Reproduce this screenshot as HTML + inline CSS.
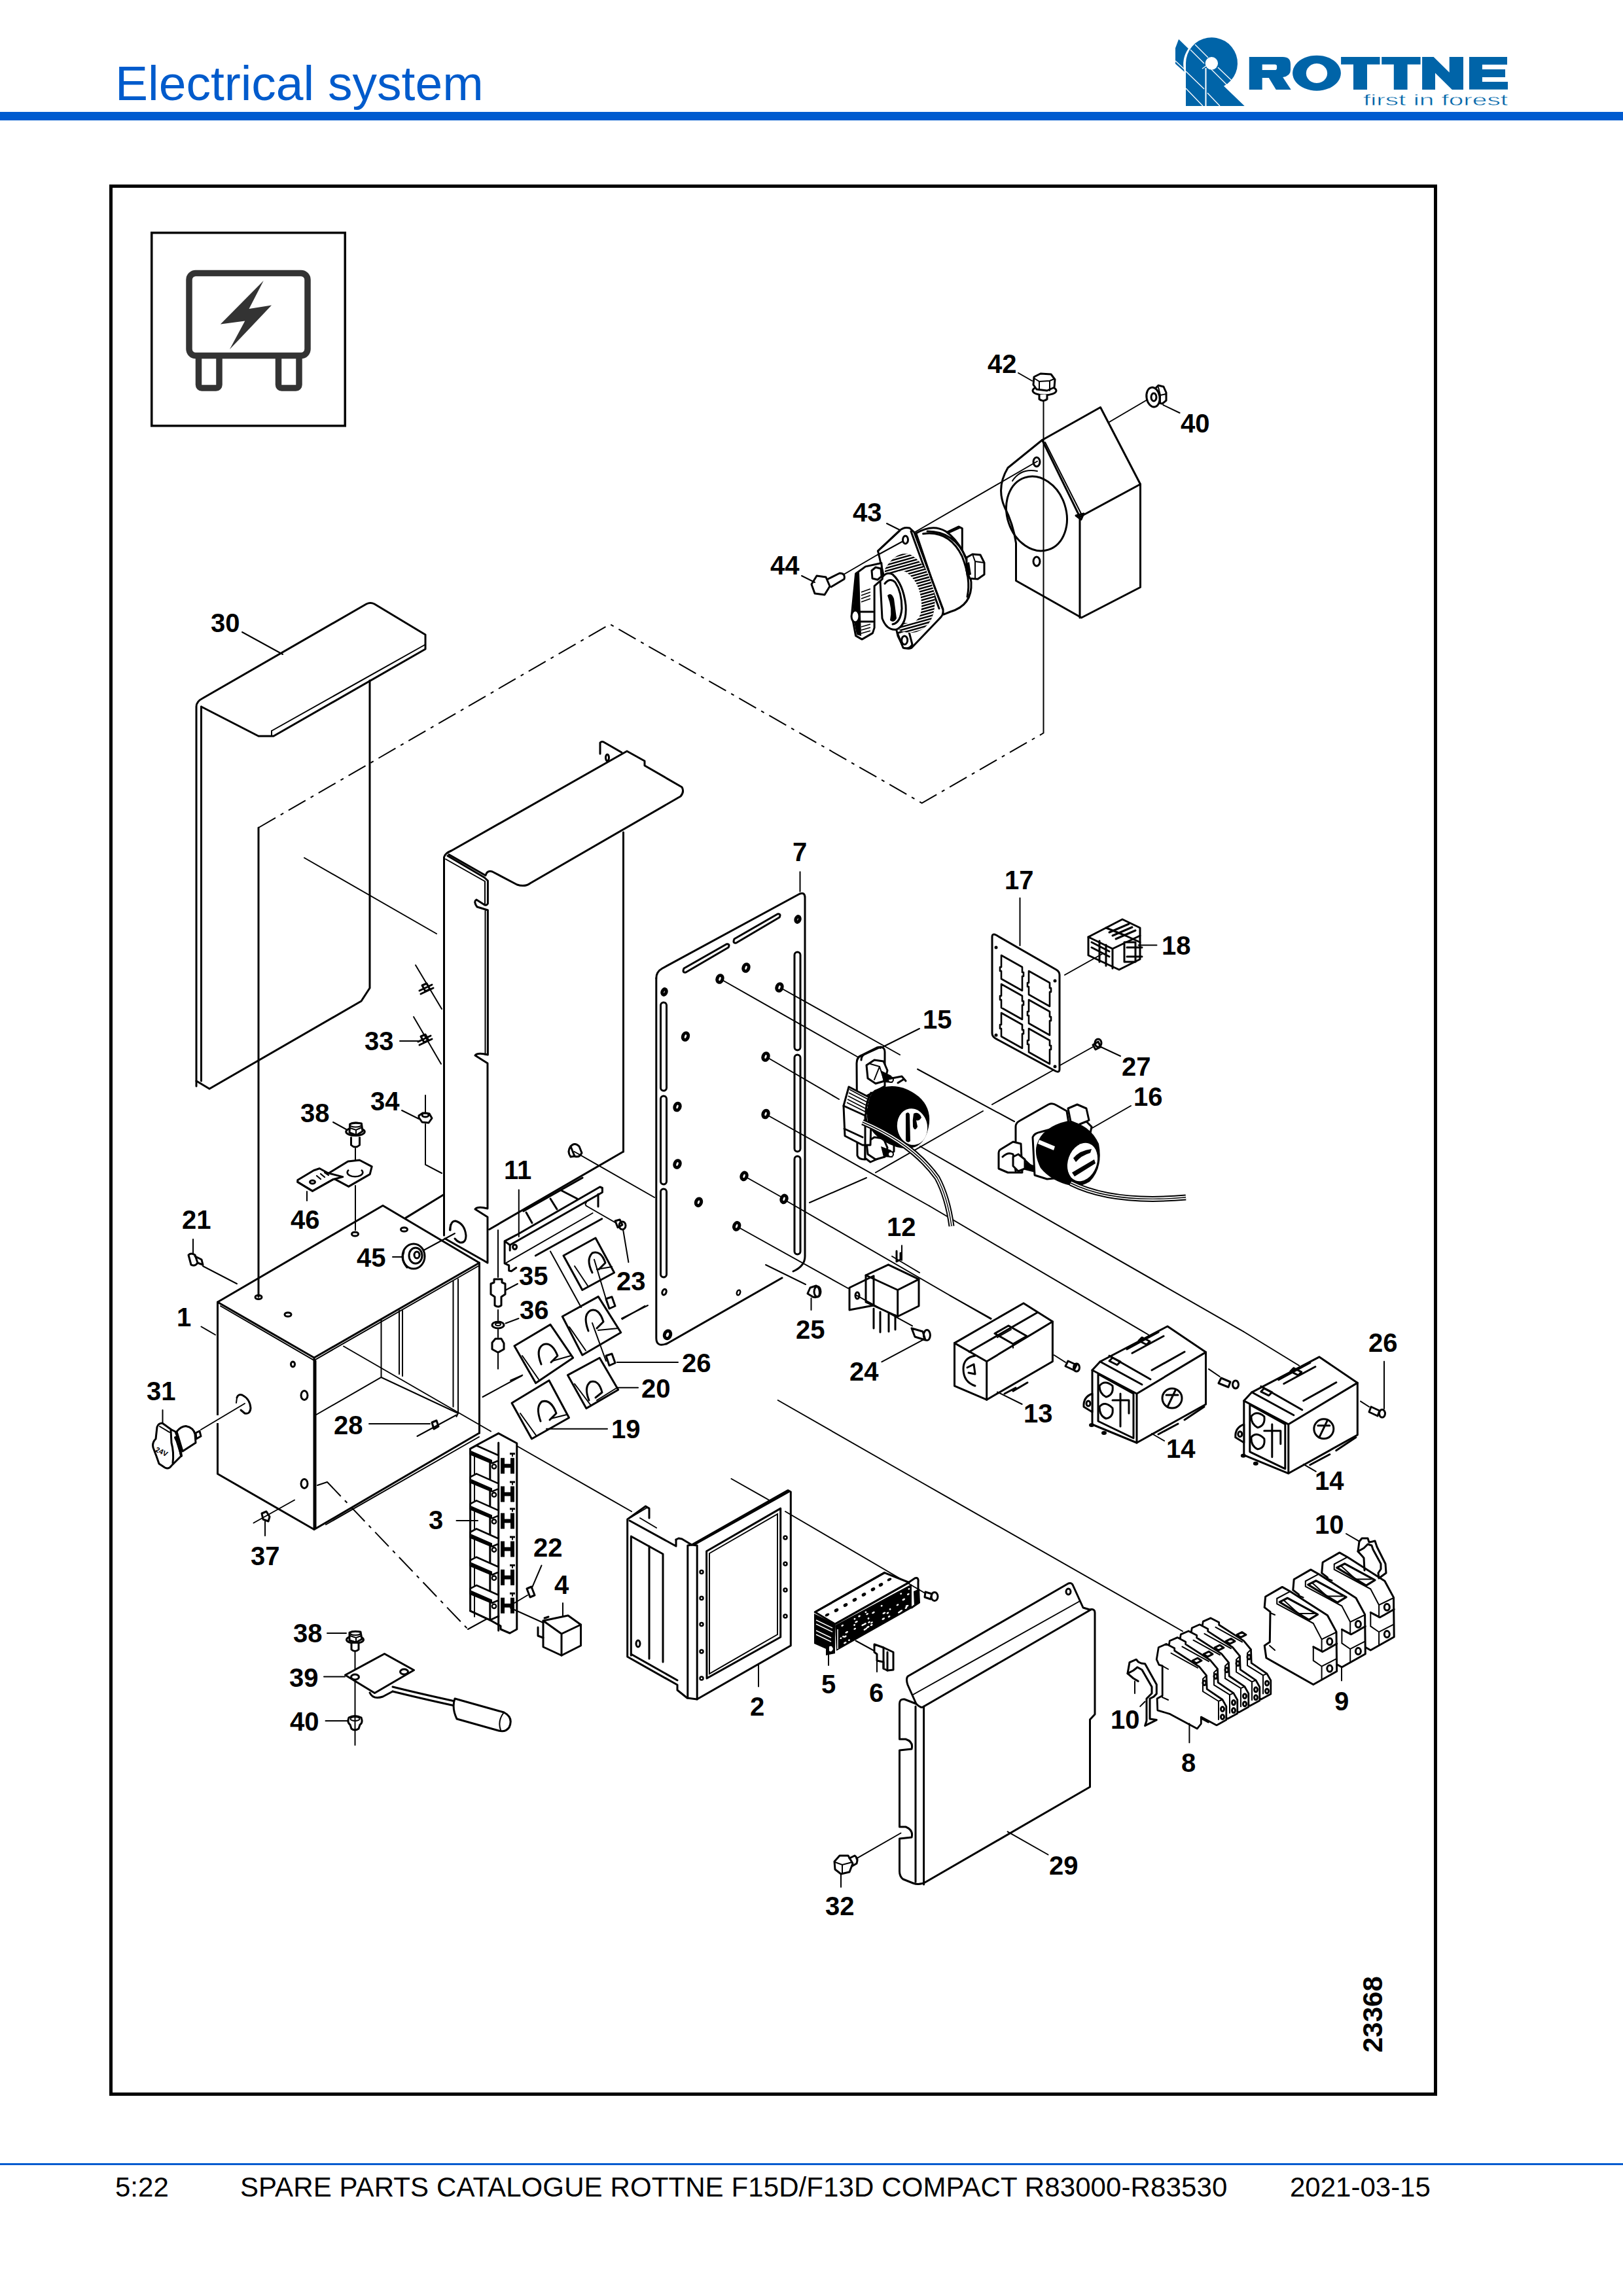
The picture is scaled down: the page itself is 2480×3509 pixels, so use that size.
<!DOCTYPE html>
<html><head><meta charset="utf-8">
<style>
html,body{margin:0;padding:0;background:#fff;}
body{width:2480px;height:3509px;position:relative;overflow:hidden;font-family:"Liberation Sans",sans-serif;}
.abs{position:absolute;}
#title{left:176px;top:90px;font-size:75px;color:#005bcc;white-space:nowrap;line-height:1;}
#hline{left:0;top:171px;width:2480px;height:13px;background:#005bcf;}
#fline{left:0;top:3306px;width:2480px;height:3px;background:#005bcf;}
.ft{font-size:42px;color:#000;white-space:nowrap;line-height:1;top:3322px;}
svg{position:absolute;left:0;top:0;}
svg text{font-family:"Liberation Sans",sans-serif;}
.L{font-size:40px;font-weight:bold;fill:#000;}
.o{fill:none;stroke:#000;stroke-width:3;stroke-linejoin:round;stroke-linecap:round;}
.t{fill:none;stroke:#000;stroke-width:2;stroke-linecap:round;}
.w{fill:#fff;stroke:#000;stroke-width:3;stroke-linejoin:round;}
.k{fill:#000;stroke:none;}
.dd{fill:none;stroke:#000;stroke-width:2;stroke-dasharray:30 9 5 9;}
</style></head><body>
<div id="title" class="abs">Electrical system</div>
<div id="hline" class="abs"></div>
<div id="fline" class="abs"></div>
<div class="abs ft" style="left:176px">5:22</div>
<div class="abs ft" style="left:367px;letter-spacing:0.1px">SPARE PARTS CATALOGUE ROTTNE F15D/F13D COMPACT R83000-R83530</div>
<div class="abs ft" style="left:1971px">2021-03-15</div>
<svg width="2480" height="3509" viewBox="0 0 2480 3509">
<g id="logo" fill="#0064a8">
<path fill-rule="evenodd" d="M1812 161.9 V96.8 A39.5 39.5 0 1 1 1870 131.6 L1901.7 161.9 Z M1851.4 87.1 A9.7 9.7 0 0 0 1851.4 106.5 A9.7 9.7 0 0 0 1851.4 87.1 Z"/>
<path d="M1796 73.5 L1801.1 60.1 L1815.8 74.3 A43 43 0 0 0 1809.8 109.7 L1796 97.6 Z"/>
<g stroke="#fff" stroke-width="1.3">
<line x1="1842.5" y1="104" x2="1842.5" y2="162" stroke-width="2"/><line x1="1837" y1="105" x2="1844" y2="100"/>
<line x1="1826" y1="68" x2="1846" y2="88"/><line x1="1819" y1="76" x2="1840" y2="97"/>
<line x1="1812" y1="109" x2="1840" y2="136"/><line x1="1812" y1="135" x2="1838" y2="162"/>
<line x1="1845" y1="142" x2="1864" y2="162"/><line x1="1851" y1="106" x2="1875" y2="130"/>
<line x1="1861" y1="103" x2="1882" y2="123"/><line x1="1796" y1="93" x2="1810" y2="106"/>
</g>
<path d="M1908.8 86.9 H1960 Q1972 86.9 1972 98 V107 Q1972 116 1960.2 118 L1972.7 136.9 H1949.8 L1938.8 119 H1928.7 V136.9 H1908.8 Z M1928.7 98.5 V107.1 H1948 Q1951.1 107.1 1951.1 104 V101 Q1951.1 98.5 1948 98.5 Z" fill-rule="evenodd"/>
<path d="M2012 84.7 A36.9 27 0 1 0 2012.01 84.7 Z M2012 97 A16.2 15 0 1 1 2011.99 97 Z" fill-rule="evenodd"/>
<path d="M2049.1 87 H2108.5 V98.6 H2089 V136.9 H2068 V98.6 H2049.1 Z"/>
<path d="M2111.2 87 H2170.6 V98.6 H2150.6 V136.9 H2129.8 V98.6 H2111.2 Z"/>
<path d="M2173.1 87 H2190.6 L2214.7 110.8 V87 H2236 V136.9 H2218.8 L2193 111.6 V136.9 H2173.1 Z"/>
<path d="M2245 87 H2303 V98.8 H2264.9 V106.1 H2300 V117.9 H2264.9 V125.1 H2304 V136.8 H2245 Z"/>
<text x="2083" y="160.5" font-size="24" textLength="221" lengthAdjust="spacingAndGlyphs" style="font-family:'Liberation Sans',sans-serif" stroke="#fff" stroke-width="0.45">first in forest</text>
</g>
<rect x="169.5" y="284.5" width="2024" height="2916" fill="none" stroke="#000" stroke-width="5"/>
<rect x="231.75" y="355.75" width="295.5" height="295" fill="none" stroke="#000" stroke-width="3.5"/>
<g id="icon" stroke="#333" fill="none">
<rect x="289" y="417.5" width="181" height="126" rx="10" stroke-width="9.5"/>
<path d="M303.5 548 V588 a5 5 0 0 0 5 5 H330 a5 5 0 0 0 5 -5 V548" stroke-width="9.5"/>
<path d="M425.5 548 V588 a5 5 0 0 0 5 5 H452 a5 5 0 0 0 5 -5 V548" stroke-width="9.5"/>
<path d="M402.7 428.9 L380.5 472 L415 466.6 L350.9 534.1 L374.3 490.5 L336.8 495.4 Z" fill="#333" stroke="none"/>
</g>
<!-- 01_top.svg -->
<g id="p41">
<path class="o" d="M1592.5 672.5 L1681.5 622.5 L1742.5 740 V897.5 L1652.5 944 L1552.5 887.5 V830 Q1548 800 1535 775 Q1522 745 1540 715 Z"/>
<path class="o" d="M1592.5 672.5 L1650 790 V944 M1650 790 L1742.5 740"/>
<path class="t" d="M1597 676 L1652 785"/>
<ellipse class="o" cx="1584" cy="785" rx="45" ry="58" transform="rotate(-18 1584 785)"/>
<path class="t" d="M1547 735 Q1560 715 1585 720"/>
<ellipse class="o" cx="1584" cy="706" rx="5" ry="7"/>
<ellipse class="o" cx="1584" cy="858" rx="5" ry="7"/>
<path class="o" d="M1644 788 L1656 785 L1652 794 Z" fill="#000"/>
</g>
<g id="p40">
<line class="t" x1="1695" y1="645" x2="1758" y2="608"/>
<path class="w" d="M1764 595 L1770 589 L1778 591 L1782 600 L1782 612 L1776 617 L1768 615 Z"/>
<path class="t" d="M1770 592 L1773 604 V616 M1773 604 L1782 602"/>
<ellipse class="w" cx="1762" cy="607" rx="10" ry="15" transform="rotate(-10 1762 607)"/>
<ellipse class="o" cx="1763" cy="607" rx="4" ry="6"/>
<line class="t" x1="1777.5" y1="619" x2="1802.5" y2="631"/>
<text class="L" x="1804" y="661">40</text>
</g>
<g id="p42">
<ellipse class="w" cx="1596" cy="597" rx="18" ry="7"/>
<path class="w" d="M1580 576 L1590 571 L1606 572 L1612 580 L1611 592 L1600 597 L1584 595 L1579 588 Z"/>
<path class="t" d="M1580 578 L1588 583 L1604 582 L1611 579 M1588 583 V596 M1604 582 V597"/>
<path class="w" d="M1588 603 V610 Q1594 615 1600 610 V603"/>
<line class="t" x1="1594.5" y1="612" x2="1594.5" y2="1120"/>
<line class="t" x1="1556" y1="570" x2="1577" y2="582"/>
<text class="L" x="1509" y="570">42</text>
</g>
<g id="p44">
<path class="o" d="M1240 893 L1248 880 L1262 882 L1268 896 L1260 909 L1245 907 Z"/>
<path class="o" d="M1265 885 L1283 876 Q1292 876 1290 885 L1270 897"/>
<line class="t" x1="1290" y1="877.5" x2="1380" y2="825"/>
<line class="t" x1="1225" y1="880" x2="1245" y2="890"/>
<text class="L" x="1177" y="878">44</text>
</g>
<g id="p43">
<line class="t" x1="1395" y1="815" x2="1585" y2="705"/>
<line class="t" x1="1355" y1="800" x2="1375" y2="810"/>
<text class="L" x="1303" y="797">43</text>
<!-- back bracket -->
<path class="w" d="M1441.8 815.8 L1464.9 804.9 L1470.3 807.6 L1470.3 847 L1441.8 860 Z"/>
<path class="t" d="M1444 817 L1466 807"/>
<!-- barrel -->
<path class="w" d="M1399.8 815 Q1425 800 1445 812 Q1478 835 1484 890 Q1486 925 1452 935 L1441.8 939.1 Z"/>
<path class="o" d="M1410.6 815.8 Q1450 810 1470 850 Q1484 885 1478 912"/>
<path class="o" d="M1417 812 Q1458 812 1476 852"/>
<!-- terminal nut -->
<path class="w" d="M1477 852 L1486 847 L1498 848 L1504 860 L1504 878 L1494 885 L1482 884 L1477 872 Z"/>
<path class="t" d="M1486 847 L1490 858 L1504 860 M1490 858 L1490 884"/>
<path class="k" d="M1474 862 L1481 859 L1484 878 L1477 881 Z"/>
<!-- flange -->
<path class="w" d="M1374 811.7 Q1380 805 1390 807 L1397 813.7 L1441 931 Q1442 940 1436 945 L1393 990 Q1386 993 1380 988 L1372 972 L1341.5 842 Z"/>
<path class="o" d="M1392 812 L1435 930"/>
<path class="t" d="M1397 814 L1440 931"/>
<ellipse class="o" cx="1383.5" cy="825" rx="4" ry="6"/>
<path class="o" d="M1341.5 842 L1374 811.7"/>
<line class="t" x1="1341.5" y1="848" x2="1380" y2="827"/>
<!-- bottom ear -->
<path class="w" d="M1371.3 967.6 L1388 962 L1394 985 Q1390 993 1380 990 Z"/>
<ellipse class="o" cx="1382.2" cy="978.4" rx="4.5" ry="6.5"/>
<!-- gear ring -->
<path class="k" fill-rule="evenodd" d="M1352 870 Q1370 840 1392 848 Q1420 865 1428 910 Q1432 955 1400 966 Q1370 972 1352 940 Z M1356 890 Q1368 868 1384 874 Q1405 888 1408 920 Q1410 948 1392 952 Q1370 955 1360 930 Z"/>
<clipPath id="ringclip"><path fill-rule="evenodd" d="M1352 870 Q1370 840 1392 848 Q1420 865 1428 910 Q1432 955 1400 966 Q1370 972 1352 940 Z M1356 890 Q1368 868 1384 874 Q1405 888 1408 920 Q1410 948 1392 952 Q1370 955 1360 930 Z"/></clipPath>
<g stroke="#fff" stroke-width="2" clip-path="url(#ringclip)">
<line x1="1340" y1="856.0" x2="1440" y2="828.0"/>
<line x1="1340" y1="860.6" x2="1440" y2="832.6"/>
<line x1="1340" y1="865.2" x2="1440" y2="837.2"/>
<line x1="1340" y1="869.8" x2="1440" y2="841.8"/>
<line x1="1340" y1="874.4" x2="1440" y2="846.4"/>
<line x1="1340" y1="879.0" x2="1440" y2="851.0"/>
<line x1="1340" y1="883.6" x2="1440" y2="855.6"/>
<line x1="1340" y1="888.2" x2="1440" y2="860.2"/>
<line x1="1340" y1="892.8" x2="1440" y2="864.8"/>
<line x1="1340" y1="897.4" x2="1440" y2="869.4"/>
<line x1="1340" y1="902.0" x2="1440" y2="874.0"/>
<line x1="1340" y1="906.6" x2="1440" y2="878.6"/>
<line x1="1340" y1="911.2" x2="1440" y2="883.2"/>
<line x1="1340" y1="915.8" x2="1440" y2="887.8"/>
<line x1="1340" y1="920.4" x2="1440" y2="892.4"/>
<line x1="1340" y1="925.0" x2="1440" y2="897.0"/>
<line x1="1340" y1="929.6" x2="1440" y2="901.6"/>
<line x1="1340" y1="934.2" x2="1440" y2="906.2"/>
<line x1="1340" y1="938.8" x2="1440" y2="910.8"/>
<line x1="1340" y1="943.4" x2="1440" y2="915.4"/>
<line x1="1340" y1="948.0" x2="1440" y2="920.0"/>
<line x1="1340" y1="952.6" x2="1440" y2="924.6"/>
<line x1="1340" y1="957.2" x2="1440" y2="929.2"/>
<line x1="1340" y1="961.8" x2="1440" y2="933.8"/>
<line x1="1340" y1="966.4" x2="1440" y2="938.4"/>
<line x1="1340" y1="971.0" x2="1440" y2="943.0"/>
<line x1="1340" y1="975.6" x2="1440" y2="947.6"/>
<line x1="1340" y1="980.2" x2="1440" y2="952.2"/>
</g>
<!-- inner hub -->
<path class="w" d="M1345 888 Q1352 872 1364 878 Q1380 892 1384 925 Q1386 955 1370 962 Q1355 964 1348 945 Z"/>
<path class="o" d="M1352 892 Q1360 882 1368 890 Q1378 905 1378 930 Q1376 952 1364 954"/>
<path class="k" d="M1356 910 Q1362 904 1366 915 L1370 945 Q1366 953 1360 948 Q1364 930 1356 910 Z"/>
<!-- front cap -->
<path class="w" d="M1307.6 876.8 L1322.5 865.9 L1346.9 860.5 L1348.3 884.9 L1336.1 895.7 L1336.1 959.4 L1333.4 967.6 L1317.1 977.1 L1307.6 971.6 L1301.5 939.1 Z"/>
<path class="k" d="M1307 878 L1313 874 L1316 972 L1309 970 L1303 940 Z"/>
<path class="w" d="M1332 872 L1338 867 L1346 869 L1347 881 L1341 886 L1333 884 Z"/>
<ellipse class="w" cx="1307" cy="942" rx="6" ry="9"/>
<path class="o" d="M1312 935 H1334 M1312 950 H1334"/>
<g stroke="#000" stroke-width="1.6">
<line x1="1316" y1="905" x2="1330" y2="900"/><line x1="1316" y1="910" x2="1330" y2="905"/><line x1="1316" y1="915" x2="1330" y2="910"/>
<line x1="1316" y1="920" x2="1330" y2="915"/><line x1="1316" y1="958" x2="1330" y2="954"/><line x1="1316" y1="963" x2="1330" y2="959"/>
<line x1="1316" y1="968" x2="1330" y2="964"/>
</g>
</g>

<!-- 02_covers.svg -->
<g id="p30">
<path class="o" d="M300 1660 V1080 Q300 1072 310 1067 L560 923 Q566 920 572 923 L650 970 V992 L418 1125 H395 L307.5 1080"/>
<path class="o" d="M307.5 1080 V1652"/>
<path class="t" d="M415 1117 L650 985"/>
<line class="t" x1="415" y1="1117" x2="415" y2="1125"/>
<path class="o" d="M300 1652 L320 1664 L552 1530 L565 1510 V1040"/>
<line class="t" x1="370" y1="966" x2="432" y2="1000"/>
<text class="L" x="322" y="966">30</text>
</g>
<path class="dd" d="M395 1265 L932 954 L1408.7 1227.3 L1595 1120"/>
<line class="o" x1="395" y1="1265" x2="395" y2="1982"/>
<line class="t" x1="465" y1="1311" x2="667" y2="1427"/>
<g id="pmid">
<path class="o" d="M678.5 1888 V1310 Q680 1304 690 1300 L958 1148 L985 1163 V1170 L1042 1203 Q1046 1210 1040 1217 L810 1350 Q802 1356 790 1352 L752 1332 Q744 1330 742 1338 L686 1306"/>
<path class="t" d="M681 1313 L741 1347 V1381 M741.5 1392 V1612"/>
<path class="o" d="M684 1308 L740 1341 L745.4 1346 V1381 Q743 1385 739 1382 L728 1375 Q723 1378 729 1386 L745.4 1391 V1612 Q730 1608 726 1613 L745 1625 V1847 Q730 1843 726 1848 L745 1860 V1930 L740 1927 L680 1893"/>
<path class="o" d="M917 1135 V1152 M917 1135 Q920 1132 924 1135 L950 1150"/>
<ellipse class="o" cx="928" cy="1158" rx="2.5" ry="5"/>
<line class="o" x1="952.5" y1="1272" x2="952.5" y2="1760"/>
<line class="o" x1="619.8" y1="1861.4" x2="678" y2="1825.8"/>
<path class="o" d="M952.5 1760 L747.5 1879"/>
</g>

<!-- 03_midleft.svg -->
<g id="p33">
<line class="t" x1="635" y1="1475" x2="675" y2="1542"/>
<line class="t" x1="632" y1="1554" x2="674" y2="1626"/>
<path class="o" d="M645 1506 L652 1503 L657 1512 L650 1515 Z M641 1514 L660 1505 M643 1519 L662 1510"/>
<path class="o" d="M643 1584 L650 1581 L655 1590 L648 1593 Z M639 1592 L658 1583 M641 1597 L660 1588"/>
<line class="t" x1="611" y1="1591" x2="642" y2="1591"/>
<text class="L" x="557" y="1605">33</text>
</g>
<g id="p34">
<line class="t" x1="650" y1="1674" x2="650" y2="1702"/>
<path class="o" d="M640 1705 L646 1701 L656 1702 L660 1709 L655 1716 L645 1715 L640 1708 Z"/>
<ellipse class="o" cx="650" cy="1704" rx="5" ry="3"/>
<path class="t" d="M650 1718 V1780 L675 1793"/>
<line class="t" x1="614" y1="1697" x2="640" y2="1710"/>
<text class="L" x="566" y="1697">34</text>
</g>
<g id="p38a">
<ellipse class="w" cx="543" cy="1729.6" rx="14.3" ry="6"/>
<path class="w" d="M534.6 1718 Q540 1715 552.4 1717 L554 1729 L544.5 1735 L534 1731 Z"/>
<ellipse class="t" cx="543.5" cy="1719" rx="9" ry="3.5"/>
<path class="t" d="M535 1724 L544 1727 L553 1723 M544 1727 V1735"/>
<path class="w" d="M536.5 1737.5 V1750 Q543 1756 549.5 1750 V1737.5"/>
<line class="t" x1="543" y1="1755" x2="543" y2="1790"/>
<line class="t" x1="543" y1="1812" x2="543" y2="1880"/>
<line class="t" x1="509" y1="1715" x2="529" y2="1726"/>
<text class="L" x="459" y="1715">38</text>
</g>
<g id="p46">
<path class="w" d="M501 1793.7 L531.7 1775 L549.4 1773 L568.2 1782.8 L565.2 1794.6 L532.7 1813.4 L509 1800.6 Z"/>
<path class="w" d="M454.8 1803.5 L479.4 1788.7 L488.3 1785.8 L501.1 1792.7 L523.8 1798.6 L509 1802.5 L477.5 1820.3 L454.8 1806.5 Z"/>
<path class="o" d="M454.8 1806.5 L477.5 1820.3 L509 1802.5"/>
<path class="w" d="M533 1788 A11.8 6.4 0 1 0 552 1788" style="stroke-width:2.6"/>
<ellipse class="o" cx="477.5" cy="1806.5" rx="4" ry="2.5"/>
<path class="o" d="M484 1797 L490 1802 M490 1794 L496 1799 M496 1792 L502 1796" style="stroke-width:2.2"/>
<line class="t" x1="469" y1="1821" x2="469" y2="1835"/>
<text class="L" x="444" y="1878">46</text>
</g>
<g id="p45">
<ellipse class="o" cx="632" cy="1920" rx="17" ry="19"/>
<ellipse class="o" cx="635" cy="1919" rx="10" ry="12"/>
<ellipse class="o" cx="637" cy="1918" rx="4" ry="5"/>
<path class="o" d="M617 1913 Q612 1925 622 1937"/>
<line class="t" x1="647" y1="1911" x2="695" y2="1885"/>
<path class="o" d="M688 1880 Q688 1866 696 1866 Q710 1870 712 1888 Q712 1900 703 1899 Q698 1897 695 1893"/>
<path class="t" d="M688 1872 L687 1880"/>
<line class="t" x1="600" y1="1921" x2="614" y2="1921"/>
<text class="L" x="545" y="1936">45</text>
</g>
<g id="p21">
<path class="o" d="M288 1918 Q292 1914 298 1918 L302 1930 Q298 1936 292 1933 Z"/>
<path class="o" d="M298 1920 L308 1925 L310 1933 L302 1930"/>
<line class="t" x1="310" y1="1935" x2="362" y2="1962"/>
<line class="t" x1="295" y1="1894" x2="295" y2="1915"/>
<text class="L" x="278" y="1878">21</text>
</g>
<g id="p11">
<path class="o" d="M799.9 1851 L890.1 1800 M799.2 1884.3 L879.8 1837.7 M804 1853 L813 1869 M841 1832 L851 1848 M857 1819 L882 1832"/>
<path class="w" d="M771.1 1896.9 L789.6 1887.2 L916.7 1814 L920.4 1815.5 V1822.2 L905.6 1854 L773.3 1930.1 Z" style="stroke:none"/>
<path class="o" d="M771.1 1896.9 L789.6 1887.2 L916.7 1814 L920.4 1815.5 V1822.2 L779.2 1902.8 L771.1 1896.9 V1930.9 L777.7 1933.8 V1942 L781.4 1942.7 L788.8 1937.5"/>
<path class="o" d="M779.2 1902.8 V1911"/>
<path class="t" d="M773.3 1930.1 L905.6 1854"/>
<path class="o" d="M818.4 1919 L919.7 1862.8"/>
<path class="o" d="M914 1825 V1844"/>
<ellipse class="o" cx="786.6" cy="1905.7" rx="3" ry="3.5"/>
<line class="t" x1="792.8" y1="1818.5" x2="792.8" y2="1890"/>
<text class="L" x="770" y="1802">11</text>
</g>
<g id="p23">
<path class="t" d="M896 1843 Q893 1840 896 1838 M896 1843 L942 1869.5"/>
<path class="o" d="M940 1866 L947 1864 L951 1872 L944 1876 Z"/>
<ellipse class="o" cx="951" cy="1873" rx="5" ry="6"/>
<line class="t" x1="952.2" y1="1880" x2="960.4" y2="1929"/>
<text class="L" x="942" y="1972">23</text>
</g>
<g id="p35">
<line class="t" x1="761" y1="1880" x2="761" y2="1952"/>
<path class="o" d="M755 1955 V1960 L750 1962 V1978 L756 1982 V1995 Q761 1999 766 1995 V1982 L772 1978 V1962 L767 1960 V1955 Z"/>
<line class="t" x1="791" y1="1962" x2="772" y2="1972"/>
<text class="L" x="793" y="1964">35</text>
</g>

<!-- 04_box1.svg -->
<g id="p1">
<path class="o" d="M332.5 1990 L585 1842.5 L732.5 1930 L480 2075 Z"/>
<path class="t" d="M337 1996 L480 2079 L732.5 1934"/>
<path class="o" d="M332.5 1990 V2252.5 L480 2337.5 V2075"/>
<path class="o" d="M482 2080 V2335"/>
<path class="o" d="M732.5 1930 V2190"/>
<path class="o" d="M480 2337.5 L732.5 2190"/>
<path class="t" d="M498 2330 L732 2196"/>
<path class="t" d="M482.5 2162.5 L582.5 2105 L700 2160 M582.5 2017.5 V2105 M610 2003 V2100 M615 2003 V2103 M692.5 1958 V2150 M700 1955 V2160 L697.5 2165"/>
<path class="t" d="M485 2270 L500 2265"/>
<ellipse class="o" cx="447.5" cy="2085" rx="3" ry="4"/>
<ellipse class="o" cx="465" cy="2132.5" rx="5" ry="7"/>
<ellipse class="o" cx="465" cy="2267.5" rx="5" ry="7"/>
<path class="o" d="M362 2136 Q364 2130 370 2132 Q382 2138 383 2152 Q382 2162 374 2160 L368 2155"/>
<path class="t" d="M362 2136 L361 2144"/>
<ellipse class="o" cx="395" cy="1982.5" rx="5" ry="3"/>
<ellipse class="o" cx="440" cy="2009" rx="5" ry="3"/>
<ellipse class="o" cx="542.5" cy="1886" rx="5" ry="3"/>
<ellipse class="o" cx="617.5" cy="1879" rx="5" ry="3"/>
<line class="t" x1="307.5" y1="2027.5" x2="329" y2="2040"/>
<text class="L" x="270" y="2027">1</text>
</g>
<g id="p31">
<path class="w" d="M270 2188 Q276 2180 284 2179.5 Q296 2182 298 2192 L299 2205 L279 2218 Z"/>
<path class="w" d="M299 2190 L305 2187 L307 2195 L300 2199 Z"/>
<path class="w" d="M240 2181 Q242 2175 248 2175 L262 2185 L268 2188 Q272 2196 271 2205 Q275 2218 277 2225 L262 2240 Q258 2246 252 2243 L243 2237 Q239 2225 235 2215 Q231 2206 238 2199 Z"/>
<path class="o" d="M261 2186 L262 2205 Q266 2220 264 2236"/>
<path class="o" d="M268 2197 Q275 2210 277 2225" style="stroke-width:4"/>
<path class="t" d="M244 2180 L259 2189"/>
<text x="238" y="2221" font-size="11" font-weight="bold" transform="rotate(25 244 2216)">24V</text>
<rect x="329" y="2163" width="5" height="12" fill="#fff"/>
<line class="t" x1="307" y1="2185" x2="374" y2="2145"/>
<line class="t" x1="248.5" y1="2155" x2="248.5" y2="2175"/>
<text class="L" x="224" y="2140">31</text>
</g>
<g id="p28">
<line class="t" x1="564" y1="2176" x2="657" y2="2176"/>
<line class="t" x1="637.5" y1="2195" x2="697.5" y2="2162.5"/>
<path class="o" d="M660 2174 L667 2171 L670 2180 L663 2184 Z"/>
<text class="L" x="510" y="2192">28</text>
</g>
<g id="p37">
<line class="t" x1="387.5" y1="2327.5" x2="450" y2="2292.5"/>
<path class="o" d="M400 2313 L407 2310 L412 2318 L410 2325 L402 2322 Z"/>
<line class="t" x1="405" y1="2325" x2="405" y2="2347"/>
<text class="L" x="383" y="2392">37</text>
</g>
<path class="dd" d="M500 2265 L715 2490" stroke-dasharray="30 9 5 9"/>
<line class="t" x1="715" y1="2490" x2="757" y2="2467"/>
<line class="t" x1="525" y1="2057.5" x2="750" y2="2187.5"/>
<line class="t" x1="790" y1="2210" x2="965" y2="2310"/>

<!-- 05_clamps.svg -->
<g id="clamps">
<path class="w" d="M861 1919 L910 1892 L938.6 1945 L889.8 1971.5 Z"/>
<path class="w" d="M859.3 2012 L914.2 1981.6 L948.8 2036.5 L889.8 2071 Z"/>
<path class="w" d="M786 2057 L841 2024.3 L875.6 2075.2 L818.6 2113.8 Z"/>
<path class="w" d="M867.4 2101.6 L916.2 2075.2 L944.7 2124 L895.9 2152.4 Z"/>
<path class="w" d="M782 2144.3 L839 2109.7 L869.5 2166.7 L812.5 2199 Z"/>
<g class="o">
<path d="M905 1945 Q895 1925 905 1915 Q918 1910 925 1930 L915 1940"/>
<path d="M899 2034 Q890 2010 902 2003 Q915 1998 922 2020 L912 2030"/>
<path d="M827 2085 Q818 2062 830 2055 Q843 2050 852 2072 L842 2082"/>
<path d="M900 2140 Q892 2120 902 2112 Q915 2108 920 2128 L910 2136"/>
<path d="M826 2172 Q818 2150 828 2142 Q842 2138 850 2160 L840 2170"/>
</g>
<g class="t">
<path d="M878 1935 L898 1965 M870 2028 L895 2064 M798 2072 L823 2108 M878 2115 L903 2148 M795 2160 L820 2195"/>
<path d="M912 1940 L935 1936 M914 2033 L945 2030 M844 2080 L872 2072 M912 2140 L941 2122 M842 2168 L866 2162"/>
<path d="M908 1925 L928 1992 M905 2022 L926 2080"/>
</g>
<path class="o" d="M926 1985 L935 1982 L940 1996 L931 2000 Z"/>
<path class="o" d="M926 2072 L935 2069 L940 2083 L931 2087 Z"/>
<line class="t" x1="942.7" y1="2082" x2="1036" y2="2082"/>
<text class="L" x="1042" y="2097">26</text>
<line class="t" x1="942.7" y1="2120.7" x2="975" y2="2120.7"/>
<text class="L" x="980" y="2136">20</text>
<line class="t" x1="835" y1="2183.7" x2="928" y2="2183.7"/>
<text class="L" x="934" y="2198">19</text>
<line class="t" x1="841" y1="1912.5" x2="888" y2="1998"/>
<line class="t" x1="950.8" y1="2016.2" x2="985.4" y2="1995.9"/>
<line class="t" x1="780" y1="2109.7" x2="798.3" y2="2101.6"/>
<line class="t" x1="737.5" y1="2135" x2="797.5" y2="2102.5"/>
<line class="t" x1="950" y1="2015" x2="990" y2="1995"/>
</g>
<g id="p36">
<ellipse class="o" cx="761" cy="2025" rx="9" ry="5"/>
<ellipse class="t" cx="761" cy="2024" rx="4" ry="2"/>
<path class="o" d="M752 2052 L757 2046 L766 2046 L770 2053 L770 2062 L761 2067 L752 2062 Z"/>
<line class="t" x1="761" y1="2002" x2="761" y2="2018"/>
<line class="t" x1="761" y1="2032" x2="761" y2="2044"/>
<line class="t" x1="761" y1="2068" x2="761" y2="2092"/>
<line class="t" x1="772.5" y1="2022.5" x2="792.5" y2="2015"/>
<text class="L" x="794" y="2016">36</text>
</g>

<!-- 06_lowerleft.svg -->
<g id="p3">
<path class="w" d="M718.6 2214 L729.4 2208 L761.7 2190.6 L789.8 2205.7 V2490 L779 2496 L765 2490 V2485 L748.8 2476 L718.6 2462 Z"/>
<path class="o" d="M748.8 2230 V2476 M761.7 2205 V2492"/>
<path class="w" d="M718.6 2214.3 L728 2209.3 L761.7 2224.3 V2232.3 L752 2236.3 L718.6 2222.3 Z" style="stroke-width:2.6"/>
<path class="k" d="M720 2217.3 L752 2231.3 V2236.3 L720 2222.3 Z"/>
<path class="o" d="M725 2222.3 V2257.3" style="stroke-width:2"/>
<circle class="o" cx="755" cy="2241.3" r="3.2" style="stroke-width:2.4"/>
<path class="k" d="M765 2228.3 h6 v9 h9 v-9 h6 v24 h-6 v-9 h-9 v9 h-6 Z"/>
<path class="k" d="M779 2220.3 h8 v3 h-3 v3 h-2 v-3 h-3 Z"/>
<path class="w" d="M718.6 2257.4 L728 2252.4 L761.7 2267.4 V2275.4 L752 2279.4 L718.6 2265.4 Z" style="stroke-width:2.6"/>
<path class="k" d="M720 2260.4 L752 2274.4 V2279.4 L720 2265.4 Z"/>
<path class="o" d="M725 2265.4 V2300.4" style="stroke-width:2"/>
<circle class="o" cx="755" cy="2284.4" r="3.2" style="stroke-width:2.4"/>
<path class="k" d="M765 2271.4 h6 v9 h9 v-9 h6 v24 h-6 v-9 h-9 v9 h-6 Z"/>
<path class="k" d="M779 2263.4 h8 v3 h-3 v3 h-2 v-3 h-3 Z"/>
<path class="w" d="M718.6 2298.4 L728 2293.4 L761.7 2308.4 V2316.4 L752 2320.4 L718.6 2306.4 Z" style="stroke-width:2.6"/>
<path class="k" d="M720 2301.4 L752 2315.4 V2320.4 L720 2306.4 Z"/>
<path class="o" d="M725 2306.4 V2341.4" style="stroke-width:2"/>
<circle class="o" cx="755" cy="2325.4" r="3.2" style="stroke-width:2.4"/>
<path class="k" d="M765 2312.4 h6 v9 h9 v-9 h6 v24 h-6 v-9 h-9 v9 h-6 Z"/>
<path class="k" d="M779 2304.4 h8 v3 h-3 v3 h-2 v-3 h-3 Z"/>
<path class="w" d="M718.6 2341.5 L728 2336.5 L761.7 2351.5 V2359.5 L752 2363.5 L718.6 2349.5 Z" style="stroke-width:2.6"/>
<path class="k" d="M720 2344.5 L752 2358.5 V2363.5 L720 2349.5 Z"/>
<path class="o" d="M725 2349.5 V2384.5" style="stroke-width:2"/>
<circle class="o" cx="755" cy="2368.5" r="3.2" style="stroke-width:2.4"/>
<path class="k" d="M765 2355.5 h6 v9 h9 v-9 h6 v24 h-6 v-9 h-9 v9 h-6 Z"/>
<path class="k" d="M779 2347.5 h8 v3 h-3 v3 h-2 v-3 h-3 Z"/>
<path class="w" d="M718.6 2384.7 L728 2379.7 L761.7 2394.7 V2402.7 L752 2406.7 L718.6 2392.7 Z" style="stroke-width:2.6"/>
<path class="k" d="M720 2387.7 L752 2401.7 V2406.7 L720 2392.7 Z"/>
<path class="o" d="M725 2392.7 V2427.7" style="stroke-width:2"/>
<circle class="o" cx="755" cy="2411.7" r="3.2" style="stroke-width:2.4"/>
<path class="k" d="M765 2398.7 h6 v9 h9 v-9 h6 v24 h-6 v-9 h-9 v9 h-6 Z"/>
<path class="k" d="M779 2390.7 h8 v3 h-3 v3 h-2 v-3 h-3 Z"/>
<path class="w" d="M718.6 2427.8 L728 2422.8 L761.7 2437.8 V2445.8 L752 2449.8 L718.6 2435.8 Z" style="stroke-width:2.6"/>
<path class="k" d="M720 2430.8 L752 2444.8 V2449.8 L720 2435.8 Z"/>
<path class="o" d="M725 2435.8 V2470.8" style="stroke-width:2"/>
<circle class="o" cx="755" cy="2454.8" r="3.2" style="stroke-width:2.4"/>
<path class="k" d="M765 2441.8 h6 v9 h9 v-9 h6 v24 h-6 v-9 h-9 v9 h-6 Z"/>
<path class="k" d="M779 2433.8 h8 v3 h-3 v3 h-2 v-3 h-3 Z"/>
<path class="o" d="M718.6 2462 L748.8 2476 L761.7 2470"/>
<line class="t" x1="697.5" y1="2324" x2="730" y2="2324"/>
<text class="L" x="655" y="2337">3</text>
</g>
<g id="p22">
<path class="o" d="M805 2428 L812 2425 L817 2438 L810 2441 Z"/>
<line class="t" x1="777.5" y1="2455" x2="806" y2="2438"/>
<line class="t" x1="827.5" y1="2392.5" x2="812.5" y2="2427.5"/>
<text class="L" x="815" y="2379">22</text>
</g>
<g id="p4">
<path class="o" d="M830 2477 L868 2469 L887.5 2483 V2515 L858 2530 L830 2517 Z"/>
<path class="o" d="M830 2477 L858 2497 L887.5 2483 M858 2497 V2530"/>
<path class="o" d="M822 2487 V2500 L830 2503 M832 2473 L838 2471"/>
<line class="t" x1="780" y1="2457.5" x2="830" y2="2480"/>
<line class="t" x1="860" y1="2450" x2="860" y2="2470"/>
<text class="L" x="847" y="2436">4</text>
</g>
<g id="p38b">
<ellipse class="w" cx="542.5" cy="2506" rx="13" ry="5.5"/>
<path class="w" d="M534 2495 Q540 2492 551 2494 L553 2505 L544 2510 L534 2507 Z"/>
<ellipse class="t" cx="543" cy="2496" rx="8" ry="3"/>
<path class="t" d="M535 2500 L544 2503 L552 2500 M544 2503 V2510"/>
<path class="w" d="M537 2512 V2521 Q542.5 2526 548 2521 V2512"/>
<line class="t" x1="542.5" y1="2525" x2="542.5" y2="2667"/>
<line class="t" x1="500" y1="2496" x2="529" y2="2496"/>
<text class="L" x="448" y="2510">38</text>
</g>
<g id="p39">
<path class="w" d="M527.5 2560 L587.5 2527.5 L632.5 2552.5 L572.5 2587.5 Z"/>
<ellipse class="o" cx="617.5" cy="2555" rx="6" ry="4"/>
<ellipse class="o" cx="542.5" cy="2563" rx="6" ry="4"/>
<path class="o" d="M565 2587 Q570 2598 585 2593 L600 2585"/>
<path class="o" d="M600 2578 Q640 2588 695 2600 M600 2585 Q640 2595 695 2607"/>
<path class="w" d="M695 2596 L770 2617 Q785 2625 778 2640 Q772 2648 762 2645 L698 2627 Q690 2610 695 2596 Z"/>
<path class="t" d="M770 2617 Q760 2630 765 2644"/>
<line class="t" x1="495" y1="2562.5" x2="527" y2="2562.5"/>
<text class="L" x="442" y="2578">39</text>
</g>
<g id="p40b">
<path class="o" d="M533 2625 Q542 2620 552 2625 Q555 2633 550 2636 L548 2642 Q542 2646 537 2642 L535 2636 Q530 2632 533 2625 Z"/>
<ellipse class="t" cx="542.5" cy="2627" rx="7" ry="3"/>
<line class="t" x1="497.5" y1="2630" x2="531" y2="2630"/>
<text class="L" x="443" y="2645">40</text>
</g>
<g id="p2">
<path fill="#fff" d="M958.7 2322 L986.5 2302 L992 2305.4 V2320 L1033 2344 V2353 L1037 2351 L1042 2352 L1057 2361 L1203.8 2277.7 L1208.3 2280 V2515 L1065 2597 L1050 2595 V2583 L1035 2575 L960 2532 Z"/>
<path class="o" d="M992 2320 V2305.4 L986.5 2302 L958.7 2322 V2532 L1035 2575 V2583 L1050 2595 L1065 2597 L1208.3 2515 V2280 L1203.8 2277.7 L1057 2361 L1042 2352 L1037 2351 L1033 2353"/>
<path class="o" d="M962 2324 L1033 2363 V2353"/>
<path class="t" d="M964 2319 L989 2304"/>
<path class="o" d="M1050.8 2362 V2595 M1065.2 2362 V2597 M1050.8 2362 L1057 2361 L1065.2 2362"/>
<path class="o" d="M1062 2360 L1205 2280"/>
<path class="o" d="M964.3 2348 V2530 M992 2363 V2535 M1013 2375 V2540 M964.3 2348 L1013 2375"/>
<path class="o" d="M964.3 2528 L1035 2568"/>
<ellipse class="o" cx="975" cy="2512" rx="3" ry="5"/>
<path class="t" d="M978 2320 L1003 2335"/>
<path class="o" d="M1079.6 2370.8 L1192.7 2305.4 V2502 L1080 2565 Z"/>
<path class="t" d="M1084 2374 L1188 2314 V2498 L1084 2558 Z"/>
<g class="o" style="stroke-width:2.5">
<circle cx="1072" cy="2402.5" r="2.5"/><circle cx="1072" cy="2442.5" r="2.5"/><circle cx="1072" cy="2482.5" r="2.5"/>
<circle cx="1072" cy="2524" r="2.5"/><circle cx="1072" cy="2565" r="2.5"/>
<circle cx="1200" cy="2350" r="2.5"/><circle cx="1200" cy="2390" r="2.5"/><circle cx="1200" cy="2430" r="2.5"/><circle cx="1200" cy="2470" r="2.5"/>
</g>
<line class="t" x1="1117.5" y1="2260" x2="1175" y2="2292.5"/>
<line class="t" x1="1159" y1="2545" x2="1159" y2="2577.5"/>
<text class="L" x="1146" y="2622">2</text>
</g>

<!-- 07_panel7.svg -->
<g id="p7">
<path class="o" d="M1002.8 1495 Q1002.8 1485 1012 1480 L1222 1366 Q1230 1363 1230 1372 V1920 Q1230 1935 1212 1943"/>
<path class="o" d="M1195 1953 L1020 2053 Q1002.8 2060 1002.8 2045 V1495"/>
<g class="o">
<rect x="1009.5" y="1532" width="9" height="135" rx="4.5"/>
<rect x="1009.5" y="1675" width="9" height="135" rx="4.5"/>
<rect x="1009.5" y="1817" width="9" height="135" rx="4.5"/>
<rect x="1214" y="1455" width="9" height="150" rx="4.5"/>
<rect x="1214" y="1612" width="9" height="148" rx="4.5"/>
<rect x="1214" y="1767" width="9" height="150" rx="4.5"/>
<path d="M1045 1480 L1110 1443 Q1116 1442 1113 1448 L1048 1486 Q1042 1487 1045 1480 Z"/>
<path d="M1122 1435 L1188 1397 Q1194 1396 1191 1402 L1125 1441 Q1119 1442 1122 1435 Z"/>
</g>
<g class="o" style="stroke-width:5">
<ellipse cx="1219" cy="1405" rx="3" ry="4.5" transform="rotate(20 1219 1405)"/>
<ellipse cx="1140" cy="1479" rx="4" ry="5.5" transform="rotate(20 1140 1479)"/>
<ellipse cx="1100" cy="1496" rx="4" ry="5.5" transform="rotate(20 1100 1496)"/>
<ellipse cx="1191" cy="1509" rx="4" ry="5.5" transform="rotate(20 1191 1509)"/>
<ellipse cx="1015" cy="1516" rx="3" ry="4.5" transform="rotate(20 1015 1516)"/>
<ellipse cx="1047.5" cy="1584" rx="4" ry="5.5" transform="rotate(20 1047.5 1584)"/>
<ellipse cx="1170" cy="1615" rx="4" ry="5.5" transform="rotate(20 1170 1615)"/>
<ellipse cx="1035" cy="1691.5" rx="4" ry="5.5" transform="rotate(20 1035 1691.5)"/>
<ellipse cx="1170" cy="1702.5" rx="4" ry="5.5" transform="rotate(20 1170 1702.5)"/>
<ellipse cx="1035" cy="1779" rx="4" ry="5.5" transform="rotate(20 1035 1779)"/>
<ellipse cx="1137" cy="1797.4" rx="4" ry="5.5" transform="rotate(20 1137 1797.4)"/>
<ellipse cx="1067.5" cy="1837.3" rx="4" ry="5.5" transform="rotate(20 1067.5 1837.3)"/>
<ellipse cx="1198" cy="1832.4" rx="4" ry="5.5" transform="rotate(20 1198 1832.4)"/>
<ellipse cx="1125.7" cy="1873.9" rx="4" ry="5.5" transform="rotate(20 1125.7 1873.9)"/>
<ellipse cx="1015" cy="1974.7" rx="3" ry="4.5" transform="rotate(20 1015 1974.7)" style="stroke-width:3"/>
<ellipse cx="1128.5" cy="1975.5" rx="2.5" ry="4" transform="rotate(20 1128.5 1975.5)" style="stroke-width:2.5"/>
<ellipse cx="1020" cy="2039.8" rx="4.5" ry="6" transform="rotate(20 1020 2039.8)"/>
</g>
<line class="t" x1="1222.5" y1="1332.5" x2="1222.5" y2="1362.5"/>
<text class="L" x="1211" y="1316">7</text>
<line class="t" x1="877.5" y1="1760" x2="1000" y2="1830"/>
<path class="o" d="M872 1752 Q878 1745 885 1752 L889 1762 Q885 1770 878 1767 Z"/>
<path class="o" d="M872 1752 Q866 1760 872 1768 L878 1767"/>
</g>
<g id="p7lines">
<line class="t" x1="1104" y1="1498" x2="1310" y2="1615"/>
<line class="t" x1="1195" y1="1511" x2="1375" y2="1612"/>
<line class="t" x1="1402" y1="1634" x2="1550" y2="1714"/>
<line class="t" x1="1174" y1="1617" x2="1282" y2="1680"/>
<line class="t" x1="1174" y1="1705" x2="1420" y2="1843"/>
<line class="t" x1="1420" y1="1843" x2="1755" y2="2040"/>
<line class="t" x1="1406" y1="1752" x2="1900" y2="2035"/>
<line class="t" x1="1900" y1="2035" x2="1985" y2="2087"/>
<line class="t" x1="1140" y1="1799" x2="1195" y2="1830"/>
<line class="t" x1="1201" y1="1835" x2="1514" y2="2016"/>
<line class="t" x1="1129" y1="1876" x2="1296" y2="1969"/>
<line class="t" x1="1170" y1="1933" x2="1231" y2="1963"/>
<line class="t" x1="1237" y1="1838" x2="1324" y2="1800"/>
<line class="t" x1="1338" y1="1792" x2="1502" y2="1698"/>
<line class="t" x1="1516" y1="1688" x2="1612" y2="1634"/>
<line class="t" x1="1188.7" y1="2140" x2="1400" y2="2261"/>
<line class="t" x1="1400" y1="2261" x2="1807" y2="2493"/>
<line class="t" x1="1451.5" y1="1980" x2="1514.7" y2="2015"/>
</g>
<g id="p25">
<path class="o" d="M1238 1968 L1247 1965 Q1254 1968 1252 1980 Q1248 1984 1242 1982 L1234 1977 Z"/>
<ellipse class="o" cx="1249" cy="1974" rx="5" ry="8"/>
<line class="t" x1="1239.5" y1="1984" x2="1239.5" y2="2002"/>
<text class="L" x="1216" y="2046">25</text>
</g>
<g id="p12">
<path class="w" d="M1323 1949 L1357.4 1932.8 L1404 1955.2 V1996 L1371.7 2012 L1323 1990 Z"/>
<path class="o" d="M1323 1949 L1371.7 1971.5 L1404 1955.2 M1371.7 1971.5 V2012"/>
<path class="o" d="M1298 1968 L1335 1950 V1995 L1298 2002 Z"/>
<ellipse class="o" cx="1310" cy="1980" rx="3" ry="5"/>
<path class="o" d="M1335 2000 V2030 M1345 2005 V2036 M1358 2008 V2035 M1368 2010 V2032"/>
<path class="o" d="M1370 1912 V1928 L1376 1925 V1915"/>
<line class="t" x1="1363" y1="1920" x2="1405" y2="1945"/>
<line class="t" x1="1378" y1="1903.5" x2="1378" y2="1926"/>
<text class="L" x="1355" y="1889">12</text>
</g>
<g id="p24">
<path class="o" d="M1393 2030 L1410 2035 L1414 2048 L1398 2043 Z"/>
<ellipse class="o" cx="1416.4" cy="2040.6" rx="5" ry="8"/>
<line class="t" x1="1308.6" y1="1979.6" x2="1394" y2="2026.4"/>
<line class="t" x1="1347.3" y1="2081.3" x2="1412.4" y2="2046.7"/>
<text class="L" x="1298" y="2110">24</text>
</g>

<!-- 08_relays.svg -->
<g id="p15">
<path class="w" d="M1309 1625 Q1309 1616 1316 1613 L1340 1601 Q1352 1598 1352 1608 V1660 L1322 1676 L1322 1772 Q1312 1772 1310 1766 Z"/>
<path class="o" d="M1316 1620 Q1316 1612 1324 1610 L1346 1600"/>
<path class="w" d="M1322 1770 L1330 1776 L1366 1760 V1740 L1322 1750 Z"/>
<path class="w" d="M1324 1628 L1336 1620 L1350 1622 L1356 1636 L1352 1652 L1338 1656 L1326 1648 Z"/>
<path class="t" d="M1330 1626 L1344 1630 L1350 1648 M1344 1630 L1336 1650"/>
<path class="k" d="M1346 1636 L1362 1644 L1364 1655 L1350 1654 Z"/>
<circle class="w" cx="1361" cy="1650" r="4" style="stroke-width:2"/>
<path class="o" d="M1352 1650 L1378 1645 L1384 1652 M1372 1655 L1380 1650"/>
<path class="w" d="M1324 1746 L1336 1738 L1350 1740 L1356 1754 L1352 1768 L1338 1772 L1326 1764 Z"/>
<path class="k" d="M1346 1752 L1362 1758 L1364 1769 L1350 1768 Z"/>
<circle class="w" cx="1361" cy="1764" r="4" style="stroke-width:2"/>
<path class="w" d="M1289 1690 L1297 1661 L1332 1679 L1330 1750 L1318 1750 L1291 1736 Z"/>
<path class="o" d="M1289 1690 L1322 1705 L1330 1688 M1322 1705 V1748 M1290 1725 L1318 1738"/>
<g stroke="#000" stroke-width="1.6"><line x1="1298" y1="1665" x2="1330" y2="1682"/><line x1="1297" y1="1670" x2="1330" y2="1687"/><line x1="1296" y1="1675" x2="1329" y2="1692"/><line x1="1295" y1="1680" x2="1328" y2="1697"/><line x1="1294" y1="1685" x2="1326" y2="1701"/></g>
<path class="k" d="M1336 1666 Q1372 1650 1404 1676 Q1422 1692 1420 1716 Q1416 1746 1398 1753 Q1378 1760 1352 1745 Q1326 1730 1325 1707 Q1324 1680 1336 1666 Z"/>
<path class="o" d="M1331 1670 Q1320 1690 1324 1715"/>
<ellipse cx="1394" cy="1722" rx="23" ry="28" fill="#fff" transform="rotate(-10 1394 1722)"/>
<path class="k" d="M1384 1702 Q1388 1698 1390 1703 L1391 1744 Q1387 1748 1384 1743 Z"/>
<path class="k" d="M1396 1702 Q1404 1698 1408 1708 Q1404 1714 1400 1712 L1402 1722 Q1398 1730 1395 1722 Q1394 1712 1396 1702 Z"/>
<path d="M1318 1715 Q1395 1748 1432 1800 Q1448 1830 1454 1874" fill="none" stroke="#000" stroke-width="9"/>
<path d="M1318 1715 Q1395 1748 1432 1800 Q1448 1830 1454 1874" fill="none" stroke="#fff" stroke-width="5"/>
<path d="M1318 1715 Q1395 1748 1432 1800 Q1448 1830 1454 1874" fill="none" stroke="#000" stroke-width="1.4"/>
<line class="t" x1="1345" y1="1602" x2="1405" y2="1572"/>
<text class="L" x="1410" y="1572">15</text>
</g>
<g id="p16">
<path class="w" d="M1552 1722 Q1552 1716 1558 1713 L1602 1688 Q1608 1685 1614 1689 L1630 1698 L1640 1760 L1595 1800 L1552 1760 Z"/>
<path class="w" d="M1526 1762 Q1526 1758 1530 1756 L1548 1745 L1560 1748 L1562 1792 L1540 1792 L1526 1786 Z"/>
<path class="o" d="M1532 1768 Q1540 1760 1548 1764 L1552 1790"/>
<path class="w" d="M1548 1768 L1556 1764 L1566 1772 L1566 1786 L1556 1790 L1548 1782 Z"/>
<path class="k" d="M1566 1776 L1582 1782 L1582 1792 L1566 1788 Z"/>
<path class="w" d="M1578 1738 Q1580 1732 1590 1730 L1620 1722 L1620 1800 L1600 1802 L1581 1796 Z"/>
<path class="w" d="M1632 1694 L1646 1688 L1660 1694 L1664 1712 L1650 1720 L1636 1714 Z"/>
<path class="w" d="M1650 1718 L1660 1714 L1668 1722 L1666 1732 L1656 1734 L1650 1728 Z"/>
<path class="k" d="M1632 1713 Q1665 1718 1679 1748 Q1686 1785 1665 1806 Q1650 1815 1636 1812 Q1606 1805 1590 1785 Q1580 1765 1584 1750 Q1592 1722 1632 1713 Z"/>
<path d="M1588 1742 L1612 1752 L1610 1758 L1586 1748 Z" fill="#fff"/>
<ellipse cx="1654" cy="1776" rx="22" ry="30" fill="#fff" transform="rotate(20 1654 1776)"/>
<path class="k" d="M1640 1770 Q1650 1758 1668 1756 L1666 1762 Q1652 1766 1644 1776 Z M1638 1792 L1672 1772 L1674 1778 L1642 1798 Z"/>
<path d="M1636 1808 Q1700 1840 1812 1830" fill="none" stroke="#000" stroke-width="9"/>
<path d="M1636 1808 Q1700 1840 1812 1830" fill="none" stroke="#fff" stroke-width="5"/>
<path d="M1636 1808 Q1700 1840 1812 1830" fill="none" stroke="#000" stroke-width="1.4"/>
<line class="t" x1="1668" y1="1724.5" x2="1728" y2="1690"/>
<text class="L" x="1732" y="1690">16</text>
</g>
<g id="p17">
<path class="w" d="M1516 1432 Q1516 1426 1522 1429 L1614 1482 Q1619 1485 1619 1490 V1634 Q1619 1640 1613 1637 L1521 1587 Q1516 1584 1516 1579 Z"/>
<g class="o" style="stroke-width:2.6">
<path d="M1530 1460 L1562 1478 V1486 h2 v6 h-2 V1514 L1530 1496 V1484 h-2 v-6 h2 Z"/>
<path d="M1530 1504 L1562 1522 V1530 h2 v6 h-2 V1558 L1530 1540 V1528 h-2 v-6 h2 Z"/>
<path d="M1530 1548 L1562 1566 V1574 h2 v6 h-2 V1602 L1530 1584 V1572 h-2 v-6 h2 Z"/>
<path d="M1572 1484 L1604 1502 V1510 h2 v6 h-2 V1538 L1572 1520 V1508 h-2 v-6 h2 Z"/>
<path d="M1572 1528 L1604 1546 V1554 h2 v6 h-2 V1582 L1572 1564 V1552 h-2 v-6 h2 Z"/>
<path d="M1572 1572 L1604 1590 V1598 h2 v6 h-2 V1626 L1572 1608 V1596 h-2 v-6 h2 Z"/>
</g>
<g class="k"><circle cx="1522" cy="1448" r="2.5"/><circle cx="1612" cy="1499" r="2.5"/><circle cx="1522" cy="1582" r="2.5"/><circle cx="1612" cy="1630" r="2.5"/></g>
<line class="t" x1="1558.5" y1="1372.5" x2="1558.5" y2="1445"/>
<text class="L" x="1535" y="1359">17</text>
</g>
<g id="p18">
<path class="w" d="M1663 1432 L1690 1418 L1720 1430 L1742 1440 V1466 L1710 1482 L1663 1460 Z"/>
<path class="o" d="M1663 1432 L1700 1450 L1742 1430 M1700 1450 V1480"/>
<path class="o" d="M1690 1418 L1715 1405 L1742 1418 V1440"/>
<path class="o" d="M1668 1440 L1695 1454 M1668 1448 L1695 1462 M1680 1438 V1470 M1690 1444 V1476"/>
<path class="o" d="M1695 1425 L1725 1412 M1700 1430 L1730 1417 M1705 1435 L1735 1422"/>
<path class="w" d="M1718 1440 H1735 V1470 H1718 Z"/>
<path class="o" d="M1722 1448 H1745 M1722 1462 H1745"/>
<line class="t" x1="1627" y1="1490" x2="1684" y2="1458"/>
<line class="t" x1="1739.5" y1="1444.5" x2="1767.5" y2="1444.5"/>
<text class="L" x="1775" y="1459">18</text>
</g>
<g id="p27">
<path class="o" d="M1670 1597 L1678 1592 L1682 1600 L1674 1604 Z"/>
<ellipse class="o" cx="1678" cy="1594" rx="5" ry="6"/>
<line class="t" x1="1620" y1="1628" x2="1670" y2="1600"/>
<line class="t" x1="1682" y1="1600" x2="1712" y2="1614"/>
<text class="L" x="1714" y="1644">27</text>
</g>

<!-- 09_p14.svg -->
<g id="p14">
<g>
<path class="w" d="M1669.0 2094.0 L1681.0 2081.0 L1784.0 2027.0 L1842.5 2066.6 V2146.2 L1737.0 2205.0 L1669.0 2177.0 Z"/>
<path class="o" d="M1669.0 2094.0 L1737.0 2130.0 L1842.5 2066.6 M1737.0 2130.0 V2205.0"/>
<path class="o" d="M1681.0 2081.0 L1745.0 2116.0 M1695.0 2072.0 L1758.0 2108.0"/>
<path class="o" d="M1695.0 2080.0 L1700.0 2075.0 L1712.0 2081.0 L1707.0 2086.0 Z M1740.0 2049.0 L1745.0 2044.0 L1757.0 2050.0 L1752.0 2055.0 Z"/>
<path class="o" d="M1722.0 2062.0 L1770.0 2036.0 M1730.0 2068.0 L1778.0 2042.0 M1760.0 2094.0 L1810.0 2066.0"/>
<path class="o" d="M1678.0 2100.0 L1732.0 2130.0 V2198.0 L1678.0 2172.0 Z"/>
<path class="o" d="M1680.0 2118.0 Q1688.0 2108.0 1700.0 2118.0 Q1702.0 2132.0 1690.0 2135.0 Q1680.0 2130.0 1680.0 2118.0 Z"/>
<path class="o" d="M1680.0 2150.0 Q1688.0 2140.0 1700.0 2152.0 Q1702.0 2166.0 1690.0 2168.0 Q1680.0 2164.0 1680.0 2150.0 Z"/>
<path class="o" d="M1700.0 2140.0 H1725.0 V2160.0 M1712.0 2130.0 V2180.0"/>
<path class="w" d="M1669.0 2130.0 Q1655.0 2135.0 1656.0 2150.0 L1669.0 2158.0 Z"/>
<ellipse class="o" cx="1663.0" cy="2145.0" rx="3" ry="4"/>
<circle class="o" cx="1791.0" cy="2137.0" r="15"/>
<path class="o" d="M1784.0 2150.0 L1796.0 2125.0 M1782.0 2132.0 H1800.0"/>
<path class="k" d="M1664.0 2178.0 a4 3 0 1 0 8 0 a4 3 0 1 0 -8 0 Z M1683.0 2190.0 a4 3 0 1 0 8 0 a4 3 0 1 0 -8 0 Z"/>
<path class="t" d="M1760.0 2191.0 L1779.0 2202.0"/>
<path class="o" d="M1770.0 2192.0 L1800.0 2176.0 M1810.0 2170.0 L1840.0 2150.0"/>
</g>
<g>
<path class="w" d="M1900.8 2140.8 L1912.8 2127.8 L2015.8 2073.8 L2074.3 2113.4 V2193.0 L1968.8 2251.8 L1900.8 2223.8 Z"/>
<path class="o" d="M1900.8 2140.8 L1968.8 2176.8 L2074.3 2113.4 M1968.8 2176.8 V2251.8"/>
<path class="o" d="M1912.8 2127.8 L1976.8 2162.8 M1926.8 2118.8 L1989.8 2154.8"/>
<path class="o" d="M1926.8 2126.8 L1931.8 2121.8 L1943.8 2127.8 L1938.8 2132.8 Z M1971.8 2095.8 L1976.8 2090.8 L1988.8 2096.8 L1983.8 2101.8 Z"/>
<path class="o" d="M1953.8 2108.8 L2001.8 2082.8 M1961.8 2114.8 L2009.8 2088.8 M1991.8 2140.8 L2041.8 2112.8"/>
<path class="o" d="M1909.8 2146.8 L1963.8 2176.8 V2244.8 L1909.8 2218.8 Z"/>
<path class="o" d="M1911.8 2164.8 Q1919.8 2154.8 1931.8 2164.8 Q1933.8 2178.8 1921.8 2181.8 Q1911.8 2176.8 1911.8 2164.8 Z"/>
<path class="o" d="M1911.8 2196.8 Q1919.8 2186.8 1931.8 2198.8 Q1933.8 2212.8 1921.8 2214.8 Q1911.8 2210.8 1911.8 2196.8 Z"/>
<path class="o" d="M1931.8 2186.8 H1956.8 V2206.8 M1943.8 2176.8 V2226.8"/>
<path class="w" d="M1900.8 2176.8 Q1886.8 2181.8 1887.8 2196.8 L1900.8 2204.8 Z"/>
<ellipse class="o" cx="1894.8" cy="2191.8" rx="3" ry="4"/>
<circle class="o" cx="2022.8" cy="2183.8" r="15"/>
<path class="o" d="M2015.8 2196.8 L2027.8 2171.8 M2013.8 2178.8 H2031.8"/>
<path class="k" d="M1895.8 2224.8 a4 3 0 1 0 8 0 a4 3 0 1 0 -8 0 Z M1914.8 2236.8 a4 3 0 1 0 8 0 a4 3 0 1 0 -8 0 Z"/>
<path class="t" d="M1991.8 2237.8 L2010.8 2248.8"/>
<path class="o" d="M2001.8 2238.8 L2031.8 2222.8 M2041.8 2216.8 L2071.8 2196.8"/>
</g>
<text class="L" x="1782" y="2228">14</text>
<text class="L" x="2009" y="2277">14</text>
</g>

<!-- 10_p13.svg -->
<g id="p13">
<path class="w" d="M1458.5 2052.6 L1564 1991.7 L1608.4 2019.8 V2080.7 L1507.7 2139.2 L1458.5 2118.2 Z"/>
<path class="o" d="M1458.5 2052.6 L1507.7 2080.7 L1608.4 2019.8 M1507.7 2080.7 V2139.2"/>
<path class="o" d="M1481 2066 L1585 2006"/>
<path class="o" d="M1520 2038 L1541 2026 L1569 2042 L1548 2054 Z"/>
<path class="t" d="M1524 2044 L1545 2032 M1548 2054 V2060"/>
<path class="o" d="M1490 2072 Q1472 2075 1472 2092 Q1472 2112 1490 2118"/>
<path class="o" d="M1478 2090 L1488 2085 L1490 2100 L1480 2098"/>
<path class="o" d="M1548 2126 L1570 2113 M1535 2130 L1552 2121"/>
<line class="t" x1="1524" y1="2127.5" x2="1561.6" y2="2146"/>
<text class="L" x="1564" y="2174">13</text>
<path class="o" d="M1632 2080 L1645 2086 L1641 2094 L1628 2088 Z"/>
<ellipse class="o" cx="1645" cy="2090" rx="4.5" ry="6"/>
<line class="t" x1="1610.7" y1="2071" x2="1628" y2="2082"/>
<path class="o" d="M1866 2106 L1880 2112 L1877 2120 L1862 2114 Z"/>
<ellipse class="o" cx="1888" cy="2116" rx="4.5" ry="6"/>
<line class="t" x1="1847" y1="2092.4" x2="1864" y2="2104"/>
</g>
<g id="p26r">
<path class="o" d="M2095 2150 L2108 2156 L2105 2164 L2092 2158 Z"/>
<ellipse class="o" cx="2112" cy="2160.3" rx="4.5" ry="6"/>
<line class="t" x1="2079" y1="2141.6" x2="2092" y2="2150"/>
<line class="t" x1="2115" y1="2080.7" x2="2115" y2="2153"/>
<text class="L" x="2091" y="2066">26</text>
</g>

<!-- 11_lowright.svg -->
<g id="p5">
<line class="t" x1="1200" y1="2310" x2="1412" y2="2434"/>
<path class="w" d="M1245.4 2463.8 L1351.5 2403.6 L1389 2418.5 L1276 2482 Z"/>
<path class="o" d="M1245.4 2463.8 L1351.5 2403.6 M1276 2482 L1389 2418.5"/>
<g class="k">
<ellipse cx="1264" cy="2468" rx="3.5" ry="2" transform="rotate(-28 1264 2468)"/>
<ellipse cx="1278" cy="2461" rx="3.5" ry="2.5" transform="rotate(-28 1278 2461)"/>
<ellipse cx="1292" cy="2453" rx="3.5" ry="2.5" transform="rotate(-28 1292 2453)"/>
<ellipse cx="1306" cy="2445" rx="3.5" ry="2.5" transform="rotate(-28 1306 2445)"/>
<ellipse cx="1320" cy="2437" rx="3.5" ry="2.5" transform="rotate(-28 1320 2437)"/>
<ellipse cx="1334" cy="2429" rx="3.5" ry="2.5" transform="rotate(-28 1334 2429)"/>
<ellipse cx="1346" cy="2422" rx="3.5" ry="2.5" transform="rotate(-28 1346 2422)"/>
<ellipse cx="1359" cy="2414" rx="3.5" ry="2" transform="rotate(-28 1359 2414)"/>
</g>
<path class="k" d="M1276 2484 L1393 2421 V2458 L1278 2523 Z"/>
<ellipse cx="1306.2" cy="2489.3" rx="2" ry="1.3" fill="#fff" transform="rotate(-28 1306.2 2489.3)"/>
<ellipse cx="1380.8" cy="2444.5" rx="2.5" ry="1.3" fill="#fff" transform="rotate(-28 1380.8 2444.5)"/>
<ellipse cx="1287.2" cy="2484.3" rx="2" ry="1.3" fill="#fff" transform="rotate(-28 1287.2 2484.3)"/>
<ellipse cx="1308.5" cy="2478.7" rx="2.5" ry="1.3" fill="#fff" transform="rotate(-28 1308.5 2478.7)"/>
<ellipse cx="1331.7" cy="2483.5" rx="2" ry="1.3" fill="#fff" transform="rotate(-28 1331.7 2483.5)"/>
<ellipse cx="1323.7" cy="2488.8" rx="1.5" ry="1.3" fill="#fff" transform="rotate(-28 1323.7 2488.8)"/>
<ellipse cx="1349.8" cy="2474.0" rx="2.5" ry="1.3" fill="#fff" transform="rotate(-28 1349.8 2474.0)"/>
<ellipse cx="1322.9" cy="2463.9" rx="1.5" ry="1.3" fill="#fff" transform="rotate(-28 1322.9 2463.9)"/>
<ellipse cx="1297.5" cy="2506.7" rx="1.5" ry="1.3" fill="#fff" transform="rotate(-28 1297.5 2506.7)"/>
<ellipse cx="1313.1" cy="2470.0" rx="2" ry="1.3" fill="#fff" transform="rotate(-28 1313.1 2470.0)"/>
<ellipse cx="1332.0" cy="2479.8" rx="2" ry="1.3" fill="#fff" transform="rotate(-28 1332.0 2479.8)"/>
<ellipse cx="1358.6" cy="2470.6" rx="2" ry="1.3" fill="#fff" transform="rotate(-28 1358.6 2470.6)"/>
<ellipse cx="1360.1" cy="2459.4" rx="1.5" ry="1.3" fill="#fff" transform="rotate(-28 1360.1 2459.4)"/>
<ellipse cx="1376.7" cy="2435.6" rx="1.5" ry="1.3" fill="#fff" transform="rotate(-28 1376.7 2435.6)"/>
<ellipse cx="1334.4" cy="2464.6" rx="2.5" ry="1.3" fill="#fff" transform="rotate(-28 1334.4 2464.6)"/>
<ellipse cx="1328.0" cy="2479.3" rx="2" ry="1.3" fill="#fff" transform="rotate(-28 1328.0 2479.3)"/>
<ellipse cx="1326.3" cy="2486.5" rx="2.5" ry="1.3" fill="#fff" transform="rotate(-28 1326.3 2486.5)"/>
<ellipse cx="1318.6" cy="2483.4" rx="2.5" ry="1.3" fill="#fff" transform="rotate(-28 1318.6 2483.4)"/>
<ellipse cx="1305.6" cy="2483.5" rx="1.5" ry="1.3" fill="#fff" transform="rotate(-28 1305.6 2483.5)"/>
<ellipse cx="1374.2" cy="2463.8" rx="2.5" ry="1.3" fill="#fff" transform="rotate(-28 1374.2 2463.8)"/>
<ellipse cx="1356.5" cy="2465.1" rx="2" ry="1.3" fill="#fff" transform="rotate(-28 1356.5 2465.1)"/>
<ellipse cx="1386.1" cy="2454.4" rx="2.5" ry="1.3" fill="#fff" transform="rotate(-28 1386.1 2454.4)"/>
<ellipse cx="1291.4" cy="2501.1" rx="2.5" ry="1.3" fill="#fff" transform="rotate(-28 1291.4 2501.1)"/>
<ellipse cx="1371.5" cy="2452.8" rx="2" ry="1.3" fill="#fff" transform="rotate(-28 1371.5 2452.8)"/>
<ellipse cx="1293.7" cy="2494.6" rx="2.5" ry="1.3" fill="#fff" transform="rotate(-28 1293.7 2494.6)"/>
<ellipse cx="1388.9" cy="2428.3" rx="1.5" ry="1.3" fill="#fff" transform="rotate(-28 1388.9 2428.3)"/>
<ellipse cx="1325.2" cy="2466.7" rx="2" ry="1.3" fill="#fff" transform="rotate(-28 1325.2 2466.7)"/>
<ellipse cx="1327.0" cy="2473.5" rx="1.5" ry="1.3" fill="#fff" transform="rotate(-28 1327.0 2473.5)"/>
<ellipse cx="1284.9" cy="2503.7" rx="1.5" ry="1.3" fill="#fff" transform="rotate(-28 1284.9 2503.7)"/>
<ellipse cx="1321.6" cy="2481.8" rx="2.5" ry="1.3" fill="#fff" transform="rotate(-28 1321.6 2481.8)"/>
<ellipse cx="1376.9" cy="2461.9" rx="2.5" ry="1.3" fill="#fff" transform="rotate(-28 1376.9 2461.9)"/>
<ellipse cx="1306.0" cy="2474.2" rx="1.5" ry="1.3" fill="#fff" transform="rotate(-28 1306.0 2474.2)"/>
<ellipse cx="1288.5" cy="2501.1" rx="1.5" ry="1.3" fill="#fff" transform="rotate(-28 1288.5 2501.1)"/>
<ellipse cx="1384.4" cy="2457.4" rx="2" ry="1.3" fill="#fff" transform="rotate(-28 1384.4 2457.4)"/>
<ellipse cx="1347.2" cy="2454.2" rx="1.5" ry="1.3" fill="#fff" transform="rotate(-28 1347.2 2454.2)"/>
<ellipse cx="1387.8" cy="2436.5" rx="2" ry="1.3" fill="#fff" transform="rotate(-28 1387.8 2436.5)"/>
<ellipse cx="1385.5" cy="2454.5" rx="2" ry="1.3" fill="#fff" transform="rotate(-28 1385.5 2454.5)"/>
<ellipse cx="1321.4" cy="2490.4" rx="2" ry="1.3" fill="#fff" transform="rotate(-28 1321.4 2490.4)"/>
<ellipse cx="1350.8" cy="2465.3" rx="2.5" ry="1.3" fill="#fff" transform="rotate(-28 1350.8 2465.3)"/>
<ellipse cx="1291.3" cy="2510.7" rx="2.5" ry="1.3" fill="#fff" transform="rotate(-28 1291.3 2510.7)"/>
<path d="M1280 2490 V2520" stroke="#fff" stroke-width="1.5"/>
<path class="k" d="M1244 2466 L1276 2482 V2527 L1262 2530 L1262 2520 L1244 2512 Z"/>
<path d="M1247 2476 L1272 2488 M1247 2482 L1272 2494 M1247 2492 L1270 2503 M1247 2498 L1270 2509" stroke="#fff" stroke-width="1.4"/>
<path class="w" d="M1266 2516 Q1272 2512 1274 2520 Q1272 2527 1266 2524 Z" style="stroke-width:2"/>
<path class="o" d="M1389 2418 L1398 2412 Q1404 2410 1403 2418 V2450 L1393 2457"/>
<path class="k" d="M1396 2432 L1405 2428 L1406 2450 L1397 2455 Z"/>
<line class="t" x1="1266" y1="2528" x2="1266" y2="2545"/>
<text class="L" x="1255" y="2588">5</text>
<path class="o" d="M1414 2433 L1424 2436 L1422 2444 L1413 2441 Z"/>
<ellipse class="o" cx="1428" cy="2440" rx="5" ry="6.5"/>
</g>
<g id="p6">
<path class="o" d="M1336 2513 L1350 2518 L1365 2525 V2552 L1356 2553 L1350 2550 V2540 L1340 2538 V2528 L1336 2525 Z"/>
<path class="o" d="M1350 2518 V2550 M1356 2525 V2553"/>
<line class="t" x1="1307.5" y1="2507.5" x2="1335" y2="2522.5"/>
<line class="t" x1="1340" y1="2532.5" x2="1340" y2="2555"/>
<text class="L" x="1328" y="2601">6</text>
</g>
<g id="p29">
<path class="w" d="M1387 2562 L1632.5 2420 Q1638 2418 1640 2424 L1655 2457 L1665 2460 Q1673 2458 1673 2465 V2620 L1665.5 2628 V2731 L1415 2876 Q1405 2882 1395 2878 L1380 2872 Q1374.5 2868 1374.5 2860 V2810 L1393 2808 Q1396 2797 1384 2792 H1374.5 V2675 L1393 2673 Q1396 2662 1384 2658 H1374.5 V2604 Q1374.5 2596 1382 2597 L1400 2604 L1387 2575 Q1384 2566 1387 2562 Z"/>
<path class="o" d="M1400 2604 Q1408 2612 1411.6 2608 L1667 2460"/>
<path class="t" d="M1395 2590 L1650 2447"/>
<path class="o" d="M1399 2608 V2876 M1411.6 2608 V2880"/>
<ellipse class="o" cx="1632.5" cy="2432.5" rx="3.5" ry="4.5"/>
<line class="t" x1="1539.6" y1="2799.4" x2="1601.5" y2="2834.5"/>
<text class="L" x="1603" y="2865">29</text>
</g>
<g id="p32">
<path class="o" d="M1275 2845 L1283 2836 L1296 2836 L1303 2848 L1298 2861 L1285 2864 L1276 2857 Z"/>
<path class="t" d="M1276 2846 L1287 2850 L1302 2846 M1287 2850 V2864"/>
<path class="o" d="M1298 2840 L1306 2836 Q1312 2840 1309 2848 L1302 2852"/>
<line class="t" x1="1308.4" y1="2840.7" x2="1376.5" y2="2801.5"/>
<line class="t" x1="1285" y1="2865" x2="1285" y2="2884"/>
<text class="L" x="1261" y="2927">32</text>
</g>
<text class="L" transform="translate(2111.5 3137) rotate(-90)" style="font-size:42px">23368</text>

<!-- 12_p8910.svg -->
<g id="p9">
<polygon class="w" points="2021.1,2387.8 2046.8,2372.9 2059.0,2379.7 2115.9,2416.3 2129.5,2441.4 2130.2,2501.7 2094.3,2522.0 2022.4,2481.3 2019.7,2462.4 2027.8,2456.9 2028.5,2410.9 2019.7,2404.1" style="stroke-width:3"/>
<path class="t" d="M2094.3 2428.5 L2107.1 2452.9 L2129.5 2442.0 M2107.1 2452.9 V2471.8 M2094.3 2464.4 L2108.5 2471.8 L2115.9 2467.8 M2094.3 2464.4 V2485.4 L2107.1 2494.2 L2129.5 2482.7 M2107.1 2494.2 V2514.5 M2038.7 2390.5 V2398.7 L2094.3 2428.5 M2038.7 2390.5 L2059.0 2379.7"/>
<path class="o" d="M2094.3 2464.4 L2108.5 2471.8 L2115.9 2467.8 L2130.2 2459.5" style="stroke-width:3"/>
<polygon class="o" points="2042.7,2395.9 2054.9,2389.8 2101.0,2414.9 2087.5,2423.1" style="stroke-width:3.2"/>
<path class="t" d="M2049.5 2393.5 L2071.5 2413.5 L2095.5 2413.5"/>
<ellipse class="o" cx="2119.3" cy="2456.3" rx="4" ry="5" style="stroke-width:3"/>
<ellipse class="o" cx="2119.3" cy="2497.6" rx="4" ry="5" style="stroke-width:3"/>
<path class="t" d="M2028.5 2412.5 L2035.5 2415.5 M2027.5 2462.5 L2035.5 2469.5"/>
<polygon class="w" points="1977.2,2413.8 2002.9,2398.9 2015.1,2405.7 2072.0,2442.3 2085.6,2467.4 2086.3,2527.7 2050.4,2548.0 1978.5,2507.3 1975.8,2488.4 1983.9,2482.9 1984.6,2436.9 1975.8,2430.1" style="stroke-width:3"/>
<path class="t" d="M2050.4 2454.5 L2063.2 2478.9 L2085.6 2468.0 M2063.2 2478.9 V2497.8 M2050.4 2490.4 L2064.6 2497.8 L2072.0 2493.8 M2050.4 2490.4 V2511.4 L2063.2 2520.2 L2085.6 2508.7 M2063.2 2520.2 V2540.5 M1994.8 2416.5 V2424.7 L2050.4 2454.5 M1994.8 2416.5 L2015.1 2405.7"/>
<path class="o" d="M2050.4 2490.4 L2064.6 2497.8 L2072.0 2493.8 L2086.3 2485.5" style="stroke-width:3"/>
<polygon class="o" points="1998.8,2421.9 2011.0,2415.8 2057.1,2440.9 2043.6,2449.1" style="stroke-width:3.2"/>
<path class="t" d="M2005.6 2419.5 L2027.6 2439.5 L2051.6 2439.5"/>
<ellipse class="o" cx="2075.4" cy="2482.3" rx="4" ry="5" style="stroke-width:3"/>
<ellipse class="o" cx="2075.4" cy="2523.6" rx="4" ry="5" style="stroke-width:3"/>
<path class="t" d="M1984.6 2438.5 L1991.6 2441.5 M1983.6 2488.5 L1991.6 2495.5"/>
<polygon class="w" points="1933.6,2440.3 1959.3,2425.4 1971.5,2432.2 2028.4,2468.8 2042.0,2493.9 2042.7,2554.2 2006.8,2574.5 1934.9,2533.8 1932.2,2514.9 1940.3,2509.4 1941.0,2463.4 1932.2,2456.6" style="stroke-width:3"/>
<path class="t" d="M2006.8 2481.0 L2019.6 2505.4 L2042.0 2494.5 M2019.6 2505.4 V2524.3 M2006.8 2516.9 L2021.0 2524.3 L2028.4 2520.3 M2006.8 2516.9 V2537.9 L2019.6 2546.7 L2042.0 2535.2 M2019.6 2546.7 V2567.0 M1951.2 2443.0 V2451.2 L2006.8 2481.0 M1951.2 2443.0 L1971.5 2432.2"/>
<path class="o" d="M2006.8 2516.9 L2021.0 2524.3 L2028.4 2520.3 L2042.7 2512.0" style="stroke-width:3"/>
<polygon class="o" points="1955.2,2448.4 1967.4,2442.3 2013.5,2467.4 2000.0,2475.6" style="stroke-width:3.2"/>
<path class="t" d="M1962.0 2446.0 L1984.0 2466.0 L2008.0 2466.0"/>
<ellipse class="o" cx="2031.8" cy="2508.8" rx="4" ry="5" style="stroke-width:3"/>
<ellipse class="o" cx="2031.8" cy="2550.1" rx="4" ry="5" style="stroke-width:3"/>
<path class="t" d="M1941.0 2465.0 L1948.0 2468.0 M1940.0 2515.0 L1948.0 2522.0"/>
<line class="t" x1="2050" y1="2548" x2="2050" y2="2568.6"/>
<text class="L" x="2039" y="2614">9</text>
</g>
<g id="p8">
<polygon class="w" points="1838.3,2478.1 1850.1,2472.9 1862.7,2479.5 1862.7,2483.2 1900.4,2507.6 1911.5,2521.0 1912.2,2541.7 1935.9,2557.9 1941.8,2568.3 1941.8,2589.0 1927.0,2597.1 1903.3,2584.5 1903.3,2594.9 1897.4,2602.3 1856.0,2580.1 1836.8,2574.2 1836.1,2556.4 1844.2,2552.0 1844.2,2506.2 1839.0,2504.7 1835.3,2496.6" style="stroke-width:2.8"/>
<path class="t" d="M1857.5 2486.9 L1898.0 2509.4 M1911.5 2521.0 L1906.0 2526.4 V2545.4 L1930.0 2560.4 L1935.9 2557.9 M1930.0 2560.4 V2588.4"/>
<path class="o" d="M1890.0 2498.4 L1898.0 2494.4 L1904.0 2498.4 L1896.0 2502.4 Z"/>
<ellipse class="o" cx="1908.5" cy="2532.4" rx="2.5" ry="3.5"/>
<ellipse class="o" cx="1936.0" cy="2572.4" rx="2.5" ry="3.5"/>
<ellipse class="o" cx="1936.0" cy="2584.4" rx="2.5" ry="3.5"/>
<polygon class="w" points="1821.3,2488.0 1833.1,2482.8 1845.7,2489.4 1845.7,2493.1 1883.4,2517.5 1894.5,2530.9 1895.2,2551.6 1918.9,2567.8 1924.8,2578.2 1924.8,2598.9 1910.0,2607.0 1886.3,2594.4 1886.3,2604.8 1880.4,2612.2 1839.0,2590.0 1819.8,2584.1 1819.1,2566.3 1827.2,2561.9 1827.2,2516.1 1822.0,2514.6 1818.3,2506.5" style="stroke-width:2.8"/>
<path class="t" d="M1840.5 2496.8 L1881.0 2519.3 M1894.5 2530.9 L1889.0 2536.3 V2555.3 L1913.0 2570.3 L1918.9 2567.8 M1913.0 2570.3 V2598.3"/>
<path class="o" d="M1873.0 2508.3 L1881.0 2504.3 L1887.0 2508.3 L1879.0 2512.3 Z"/>
<ellipse class="o" cx="1891.5" cy="2542.3" rx="2.5" ry="3.5"/>
<ellipse class="o" cx="1919.0" cy="2582.3" rx="2.5" ry="3.5"/>
<ellipse class="o" cx="1919.0" cy="2594.3" rx="2.5" ry="3.5"/>
<polygon class="w" points="1804.3,2497.9 1816.1,2492.7 1828.7,2499.3 1828.7,2503.0 1866.4,2527.4 1877.5,2540.8 1878.2,2561.5 1901.9,2577.7 1907.8,2588.1 1907.8,2608.8 1893.0,2616.9 1869.3,2604.3 1869.3,2614.7 1863.4,2622.1 1822.0,2599.9 1802.8,2594.0 1802.1,2576.2 1810.2,2571.8 1810.2,2526.0 1805.0,2524.5 1801.3,2516.4" style="stroke-width:2.8"/>
<path class="t" d="M1823.5 2506.7 L1864.0 2529.2 M1877.5 2540.8 L1872.0 2546.2 V2565.2 L1896.0 2580.2 L1901.9 2577.7 M1896.0 2580.2 V2608.2"/>
<path class="o" d="M1856.0 2518.2 L1864.0 2514.2 L1870.0 2518.2 L1862.0 2522.2 Z"/>
<ellipse class="o" cx="1874.5" cy="2552.2" rx="2.5" ry="3.5"/>
<ellipse class="o" cx="1902.0" cy="2592.2" rx="2.5" ry="3.5"/>
<ellipse class="o" cx="1902.0" cy="2604.2" rx="2.5" ry="3.5"/>
<polygon class="w" points="1787.3,2507.8 1799.1,2502.6 1811.7,2509.2 1811.7,2512.9 1849.4,2537.3 1860.5,2550.7 1861.2,2571.4 1884.9,2587.6 1890.8,2598.0 1890.8,2618.7 1876.0,2626.8 1852.3,2614.2 1852.3,2624.6 1846.4,2632.0 1805.0,2609.8 1785.8,2603.9 1785.1,2586.1 1793.2,2581.7 1793.2,2535.9 1788.0,2534.4 1784.3,2526.3" style="stroke-width:2.8"/>
<path class="t" d="M1806.5 2516.6 L1847.0 2539.1 M1860.5 2550.7 L1855.0 2556.1 V2575.1 L1879.0 2590.1 L1884.9 2587.6 M1879.0 2590.1 V2618.1"/>
<path class="o" d="M1839.0 2528.1 L1847.0 2524.1 L1853.0 2528.1 L1845.0 2532.1 Z"/>
<ellipse class="o" cx="1857.5" cy="2562.1" rx="2.5" ry="3.5"/>
<ellipse class="o" cx="1885.0" cy="2602.1" rx="2.5" ry="3.5"/>
<ellipse class="o" cx="1885.0" cy="2614.1" rx="2.5" ry="3.5"/>
<polygon class="w" points="1770.3,2517.7 1782.1,2512.5 1794.7,2519.1 1794.7,2522.8 1832.4,2547.2 1843.5,2560.6 1844.2,2581.3 1867.9,2597.5 1873.8,2607.9 1873.8,2628.6 1859.0,2636.7 1835.3,2624.1 1835.3,2634.5 1829.4,2641.9 1788.0,2619.7 1768.8,2613.8 1768.1,2596.0 1776.2,2591.6 1776.2,2545.8 1771.0,2544.3 1767.3,2536.2" style="stroke-width:2.8"/>
<path class="t" d="M1789.5 2526.5 L1830.0 2549.0 M1843.5 2560.6 L1838.0 2566.0 V2585.0 L1862.0 2600.0 L1867.9 2597.5 M1862.0 2600.0 V2628.0"/>
<path class="o" d="M1822.0 2538.0 L1830.0 2534.0 L1836.0 2538.0 L1828.0 2542.0 Z"/>
<ellipse class="o" cx="1840.5" cy="2572.0" rx="2.5" ry="3.5"/>
<ellipse class="o" cx="1868.0" cy="2612.0" rx="2.5" ry="3.5"/>
<ellipse class="o" cx="1868.0" cy="2624.0" rx="2.5" ry="3.5"/>
<path class="t" d="M1776 2546 V2594 M1776 2546 L1785 2551 M1776 2594 L1785 2598"/>
<line class="t" x1="1817.4" y1="2634.3" x2="1817.4" y2="2663.2"/>
<text class="L" x="1805" y="2708">8</text>
</g>
<g id="p10">
<path class="w" d="M2077 2356 L2081 2351 L2090 2351 L2092 2357 L2097 2356 L2101 2355 L2104 2364 L2117 2390 L2118 2404 L2107 2412 L2106 2404 L2110 2398 L2110 2390 L2098 2368 L2096 2362 L2090 2360 L2084 2366 L2075 2371 Z"/>
<path class="o" d="M2075 2371 L2084 2381 L2085 2400"/>
<line class="t" x1="2057" y1="2344" x2="2077" y2="2355.6"/>
<text class="L" x="2009" y="2344">10</text>
<path class="w" d="M1726 2540.6 L1736.3 2536.2 L1739.2 2539.8 L1743.7 2542 L1749.6 2542.8 L1767.3 2574.6 L1767.3 2588.6 L1762.9 2593.1 L1757 2596 L1757 2627.1 L1767.3 2628.6 L1749.6 2637.4 L1752 2630 L1752 2596 L1760 2588 L1760 2578 L1745 2552 L1738 2548 L1731.8 2553 L1723 2557.6 Z"/>
<path class="o" d="M1723 2557.6 L1731.8 2565 L1739.2 2569.4"/>
<line class="t" x1="1734" y1="2569.4" x2="1734" y2="2587.9"/>
<line class="t" x1="1742.2" y1="2607.9" x2="1749.6" y2="2600.5"/>
<text class="L" x="1697" y="2642">10</text>
</g>
</svg>
</body></html>
